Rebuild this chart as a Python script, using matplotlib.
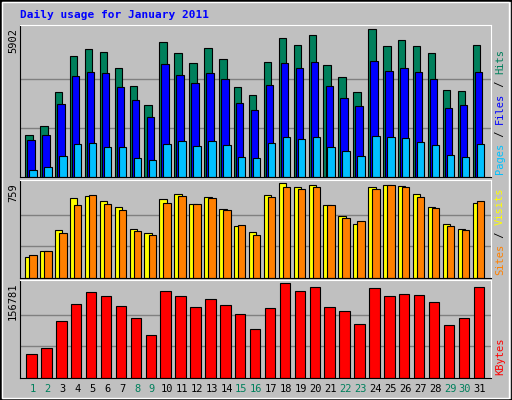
import numpy as np
import matplotlib
matplotlib.use("Agg")
import matplotlib.pyplot as plt
from matplotlib.patches import Rectangle

days = list(range(1, 32))
weekend = [1, 2, 8, 9, 15, 16, 22, 23, 29, 30]

max_hits = 5902
max_visits = 759
max_kbytes = 156781

# values
hits = [1677, 2039, 3407, 4856, 5138, 5017, 4373, 3649, 2884, 5419, 4977, 4574, 5178, 4735, 3608, 3286, 4614, 5540, 5299, 5661, 4494, 4011, 3407, 5902, 5258, 5460, 5258, 4977, 3488, 3447, 5299]
files = [1476, 1677, 2924, 4051, 4212, 4172, 3608, 3085, 2401, 4534, 4091, 3769, 4172, 3930, 2964, 2683, 3689, 4574, 4373, 4614, 3649, 3166, 2844, 4655, 4252, 4373, 4212, 3930, 2763, 2884, 4212]
pages = [268, 389, 832, 1315, 1355, 1194, 1194, 751, 671, 1315, 1435, 1234, 1435, 1274, 791, 751, 1355, 1596, 1516, 1596, 1194, 1033, 832, 1637, 1596, 1556, 1395, 1274, 872, 791, 1315]
sites = [165, 215, 380, 635, 652, 611, 569, 388, 355, 627, 668, 594, 644, 553, 413, 363, 660, 759, 726, 743, 586, 495, 429, 726, 743, 734, 668, 569, 429, 388, 602]
visits = [181, 215, 355, 583, 660, 594, 544, 372, 347, 600, 658, 594, 635, 544, 421, 347, 643, 726, 710, 726, 586, 479, 454, 710, 743, 726, 643, 561, 413, 380, 613]
kbytes = [39600, 49900, 94700, 122200, 141200, 134300, 118800, 98200, 70600, 142900, 134300, 117100, 130900, 120600, 105100, 81000, 115400, 156781, 142900, 149800, 117100, 110200, 89600, 147500, 135700, 139100, 137400, 125400, 87800, 98200, 149800]

bg = "#c0c0c0"
fig = plt.figure(figsize=(5.12, 4.0), dpi=100, facecolor=bg)
fig.patches.append(Rectangle((0, 0), 1, 1, transform=fig.transFigure, fill=False,
                             edgecolor="black", linewidth=2))
fig.patches.append(Rectangle((0.004, 0.006), 0.99, 0.988, transform=fig.transFigure, fill=False,
                             edgecolor="white", linewidth=1))

W, H = 512, 400
def ax_at(x0, y0, x1, y1):
    return fig.add_axes([x0 / W, 1 - y1 / H, (x1 - x0) / W, (y1 - y0) / H])

x = np.array(days)
xlim = (0.15, 31.74)
ec = dict(edgecolor="black", linewidth=0.8)
mono = dict(family="DejaVu Sans Mono", fontsize=7.5)

def style(ax, ymax, maxlabel):
    ax.set_facecolor(bg)
    ax.set_xlim(*xlim)
    ax.set_ylim(0, ymax * 1.03)
    for f in (1 / 3, 2 / 3):
        ax.axhline(ymax * f, color="#808080", linewidth=1, zorder=0)
    ax.set_xticks([])
    ax.set_yticks([])
    for s in ax.spines.values():
        s.set_color("black")
    ax.spines["top"].set_color("white")
    ax.spines["right"].set_color("white")
    top = 1 - ax.get_position().y1 + 3 / H
    fig.text(13 / W, 1 - top, maxlabel, rotation=90, ha="center", va="top", **mono)

ax1 = ax_at(20, 25, 491, 177)
style(ax1, max_hits, str(max_hits))
ax1.bar(x - 0.25, hits, width=0.5, color="#00805c", **ec)
ax1.bar(x - 0.11, files, width=0.5, color="#0000ff", **ec)
ax1.bar(x + 0.02, pages, width=0.5, color="#00c0ff", **ec)

ax2 = ax_at(20, 180, 491, 278)
style(ax2, max_visits, str(max_visits))
ax2.bar(x - 0.25, sites, width=0.5, color="#ffff00", **ec)
ax2.bar(x + 0.02, visits, width=0.5, color="#ff8000", **ec)

ax3 = ax_at(20, 280, 491, 378)
style(ax3, max_kbytes, str(max_kbytes))
ax3.bar(x - 0.08, kbytes, width=0.7, color="#ff0000", **ec)

for d in days:
    ax3.text(d, -0.06, str(d), transform=ax3.get_xaxis_transform(), ha="center", va="top",
             color="#00805c" if d in weekend else "black", **mono)

fig.text(20 / W, 1 - 15 / H, "Daily usage for January 2011", color="#0000ff",
         family="DejaVu Sans Mono", fontweight="bold", fontsize=8, va="center")

renderer = fig.canvas.get_renderer()

def side_label(ax, parts):
    # stack pieces bottom-up along the right edge
    y = ax.get_position().y0 + 3 / H
    for txt, col in parts:
        t = fig.text(500 / W, y, txt, color=col, rotation=90, ha="center", va="bottom", **mono)
        bb = t.get_window_extent(renderer)
        y += bb.height / H

side_label(ax1, [("Pages", "#00c0ff"), (" / ", "black"), ("Files", "#0000ff"), (" / ", "black"), ("Hits", "#00805c")])
side_label(ax2, [("Sites", "#ff8000"), (" / ", "black"), ("Visits", "#ffff00")])
side_label(ax3, [("KBytes", "#ff0000")])

fig.savefig("out.png", dpi=100, facecolor=bg)
